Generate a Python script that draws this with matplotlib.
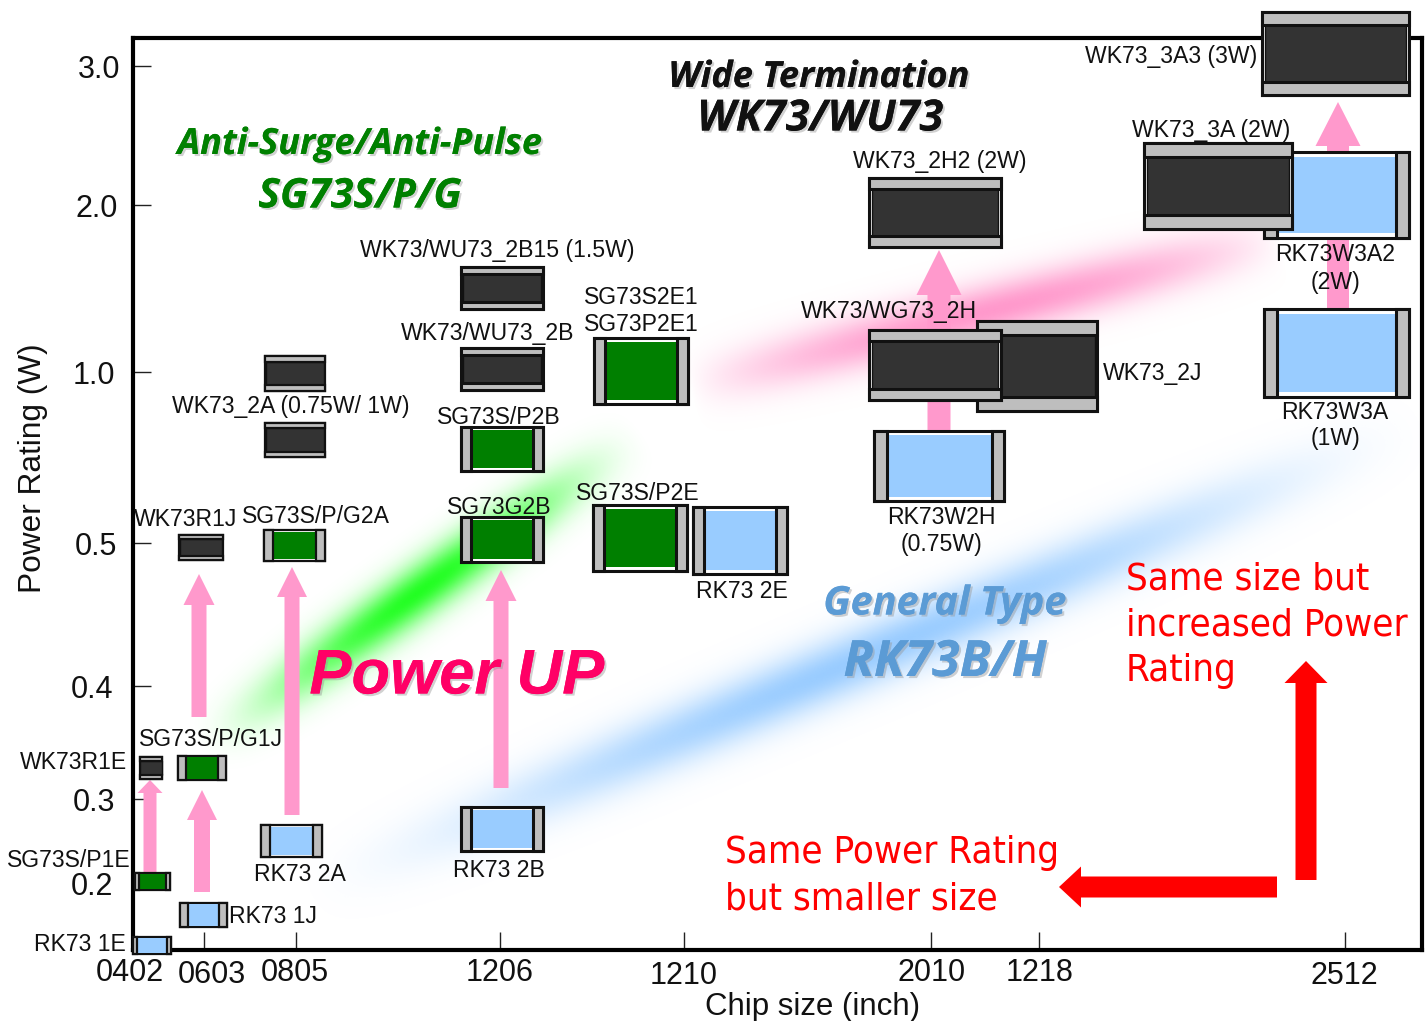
import numpy as np
import matplotlib
matplotlib.use("Agg")
import matplotlib.pyplot as plt
from matplotlib.patches import Rectangle, FancyArrow
from matplotlib.transforms import ScaledTranslation
from matplotlib.colors import to_rgb
import matplotlib.patheffects as pe

plt.rcParams['font.family'] = ['Liberation Sans', 'DejaVu Sans']

# axis content (positions in reference picture units)
x_ticks = [133, 204, 296, 500, 684, 931, 1039, 1345]
x_labels = ['0402', '0603', '0805', '1206', '1210', '2010', '1218', '2512']
x_label_dx = [-3, 8, -1, 0, 0, 1, 1, -1]
x_label_dy = [0, -2, 0, 0, -3, 0, 0, -3]
y_ticks = [66, 205, 372, 543, 686, 799, 883]
y_labels = ['3.0', '2.0', '1.0', '0.5', '0.4', '0.3', '0.2']
y_label_dx = [3, 1, -2, 0, -4, -2, -4]

# chips: left, top, right, bottom
blue_chips = [(133, 937, 171, 954), (180, 903, 227, 927), (261, 825, 322, 857), (461, 807, 543, 851),
              (693, 507, 787, 574), (874, 431, 1004, 501), (1264, 309, 1409, 397), (1264, 152, 1409, 238)]
green_chips = [(135, 873, 170, 890), (178, 756, 226, 780), (264, 530, 325, 561), (461, 427, 543, 471),
               (461, 517, 543, 562), (594, 338, 688, 404), (593, 505, 687, 571)]
dark_chips = [(140, 757, 162, 779), (179, 535, 223, 560), (265, 423, 325, 457), (265, 356, 325, 391),
              (461, 348, 543, 390), (461, 267, 543, 309), (977, 321, 1097, 411), (869, 330, 1001, 400),
              (869, 178, 1001, 247), (1144, 143, 1292, 229), (1262, 12, 1409, 95)]

# arrows: x, tail, tip, head base, shaft width, head width
pink_arrows = [(150, 875, 780, 793, 13, 25), (202, 892, 790, 820, 16, 30), (199, 717, 574, 605, 15, 31),
               (292, 815, 567, 597, 15, 30), (501, 788, 570, 601, 15, 31), (939, 431, 250, 295, 23, 45),
               (1338, 310, 102, 146, 22, 45)]

# chip labels: text, x centre, y centre
chip_labels = [('WK73_3A3 (3W)', 1171, 56), ('WK73_3A (2W)', 1211, 130), ('WK73_2H2 (2W)', 940, 161),
               ('WK73/WU73_2B15 (1.5W)', 497, 250), ('RK73W3A2', 1335, 254), ('(2W)', 1335, 282),
               ('SG73S2E1', 641, 297), ('SG73P2E1', 641, 324), ('WK73/WG73_2H', 889, 311),
               ('WK73/WU73_2B', 488, 333), ('WK73_2J', 1153, 373), ('WK73_2A (0.75W/ 1W)', 291, 406),
               ('SG73S/P2B', 499, 417), ('RK73W3A', 1335, 412), ('(1W)', 1335, 438),
               ('SG73S/P2E', 638, 493), ('SG73G2B', 499, 507), ('RK73W2H', 941, 517), ('(0.75W)', 941, 544),
               ('WK73R1J', 186, 519), ('SG73S/P/G2A', 316, 516), ('RK73 2E', 742, 591),
               ('SG73S/P/G1J', 211, 739), ('WK73R1E', 73, 762), ('SG73S/P1E', 69, 860),
               ('RK73 2A', 300, 874), ('RK73 2B', 499, 870), ('RK73 1J', 273, 916), ('RK73 1E', 80, 944)]

# streaks: start, end, colour, half width, end fade
streaks = [((195, 752), (645, 430), '#22FF22', 25, 1.6), ((690, 385), (1280, 238), '#FF99CC', 27, 0.8),
           ((300, 895), (1430, 420), '#99CCFF', 30, 1.5)]

red_lines = [('Same size but', 1126, 579), ('increased Power', 1126, 625), ('Rating', 1126, 671),
             ('Same Power Rating', 725, 853), ('but smaller size', 725, 899)]

fig = plt.figure(figsize=(14.27, 10.21), dpi=100, facecolor='white')
L, T, R, B = 133, 38, 1422, 950
W, H = 1427, 1021
ax = fig.add_axes([L / W, 1 - B / H, (R - L) / W, (B - T) / H])
ax.set_xlim(L, R)
ax.set_ylim(B, T)
for s in ax.spines.values():
    s.set_linewidth(3)
    s.set_zorder(3)

ax.set_xticks(x_ticks, x_labels)
ax.set_yticks(y_ticks, y_labels)
ax.tick_params(axis='both', direction='in', length=13, width=1, labelsize=22, color='#222222',
               labelcolor='#111111')
ax.tick_params(axis='x', pad=6)
ax.tick_params(axis='y', pad=10)
for lab, dx, dy in zip(ax.get_xticklabels(), x_label_dx, x_label_dy):
    lab.set_transform(lab.get_transform() + ScaledTranslation(dx / 100, dy / 100, fig.dpi_scale_trans))
for lab, dx in zip(ax.get_yticklabels(), y_label_dx):
    lab.set_transform(lab.get_transform() + ScaledTranslation((dx - 2) / 100, 0, fig.dpi_scale_trans))

fig.text(813 / W, 1 - 1007 / H, 'Chip size (inch)', ha='center', va='center', fontsize=22.5, color='#111111')
fig.text(33 / W, 1 - 468 / H, 'Power Rating (W)', ha='center', va='center', rotation=90, fontsize=22.8,
         color='#111111')

# soft streaks
xx, yy = np.meshgrid(np.linspace(L, R, 500), np.linspace(T, B, 400))
for p0, p1, col, hw, fade in streaks:
    d = np.array(p1, float) - np.array(p0, float)
    n = np.hypot(*d)
    t = ((xx - p0[0]) * d[0] + (yy - p0[1]) * d[1]) / n ** 2
    perp = ((xx - p0[0]) * d[1] - (yy - p0[1]) * d[0]) / n
    a = np.exp(-(perp / hw) ** 2) * np.sin(np.pi * np.clip(t, 0, 1)) ** fade
    img = np.zeros(xx.shape + (4,))
    img[..., :3] = to_rgb(col)
    img[..., 3] = a
    ax.imshow(img, extent=(L, R, B, T), aspect='auto', zorder=1, interpolation='bilinear')
ax.set_xlim(L, R)
ax.set_ylim(B, T)

# arrows
def arrow(x0, y0, dx, dy, sw, hw, hl, col, z):
    ax.add_patch(FancyArrow(x0, y0, dx, dy, width=sw, head_width=hw, head_length=hl,
                            length_includes_head=True, color=col, lw=0, zorder=z, clip_on=False))

for x, tail, tip, base, sw, hw in pink_arrows:
    arrow(x, tail, 0, tip - tail, sw, hw, base - tip, '#FF99CC', 2)
arrow(1306, 880, 0, 661 - 880, 21, 43, 22, '#FF0000', 2)
arrow(1277, 887, 1059 - 1277, 0, 21, 41, 22, '#FF0000', 2)

# chips
def rect(l, t, r, b, fc, z, lw=2.0, ec='#111111'):
    ax.add_patch(Rectangle((l, t), r - l, b - t, fc=fc, ec=ec, lw=lw, zorder=z, clip_on=False))

def side_cap_chip(c, body, z):
    l, t, r, b = c
    w, h = r - l, b - t
    cap = 6 + 0.05 * w if w >= 40 else 4
    lw = 2.2 if w > 70 else 1.6
    rect(l, t, r, b, 'white', z, lw)
    band = h * 0.06
    ax.add_patch(Rectangle((l + cap, t + band), w - 2 * cap, h - 2 * band, fc=body, ec='none', zorder=z + 0.1,
                           clip_on=False))
    rect(l, t, l + cap, b, '#BEBEBE', z + 0.2, lw)
    rect(r - cap, t, r, b, '#BEBEBE', z + 0.2, lw)

def top_cap_chip(c, z):
    l, t, r, b = c
    w, h = r - l, b - t
    cap = h * 0.16
    lw = 2.2 if w > 70 else 1.6
    rect(l, t, r, b, 'white', z, lw)
    ax.add_patch(Rectangle((l + w * 0.02, t + cap), w * 0.96, h - 2 * cap, fc='#333333', ec='#111111', lw=1,
                           zorder=z + 0.1, clip_on=False))
    rect(l, t, r, t + cap, '#BEBEBE', z + 0.2, lw)
    rect(l, b - cap, r, b, '#BEBEBE', z + 0.2, lw)

z = 4
for c in blue_chips:
    side_cap_chip(c, '#99CCFF', z)
    z += 1
for c in green_chips:
    side_cap_chip(c, '#007F00', z)
    z += 1
for c in dark_chips:
    top_cap_chip(c, z)
    z += 1

# labels
for txt, x, y in chip_labels:
    ax.text(x, y, txt, ha='center', va='center', fontsize=16.6, color='#111111', zorder=60, clip_on=False)

for txt, x, y in red_lines:
    ax.text(x, y, txt, ha='left', va='center', fontsize=27.5, color='#FF0000', zorder=60, clip_on=False,
            family=['DejaVu Sans'], fontstretch='condensed')

shadow = [pe.withSimplePatchShadow(offset=(1.5, -1.5), shadow_rgbFace='#999999', alpha=0.45), pe.Normal()]
def title(txt, x, y, size, col):
    ax.text(x, y, txt, ha='center', va='center', fontsize=size, color=col, fontweight='bold', style='italic',
            family=['Open Sans', 'DejaVu Sans'], zorder=61, clip_on=False, path_effects=shadow)

title('Wide Termination', 819, 78, 26, '#111111')
title('WK73/WU73', 820, 119, 31, '#111111')
title('Anti-Surge/Anti-Pulse', 360, 145, 26, '#008000')
title('SG73S/P/G', 360, 197, 29.5, '#008000')
title('General Type', 945, 604, 28.5, '#5B9BD5')
title('RK73B/H', 945, 663, 36, '#5B9BD5')
ax.text(457, 677, 'Power UP', ha='center', va='center', fontsize=45.5, color='#FF0066', fontweight='bold',
        style='italic', zorder=61, path_effects=shadow)

fig.savefig('out.png', dpi=100, facecolor='white')
